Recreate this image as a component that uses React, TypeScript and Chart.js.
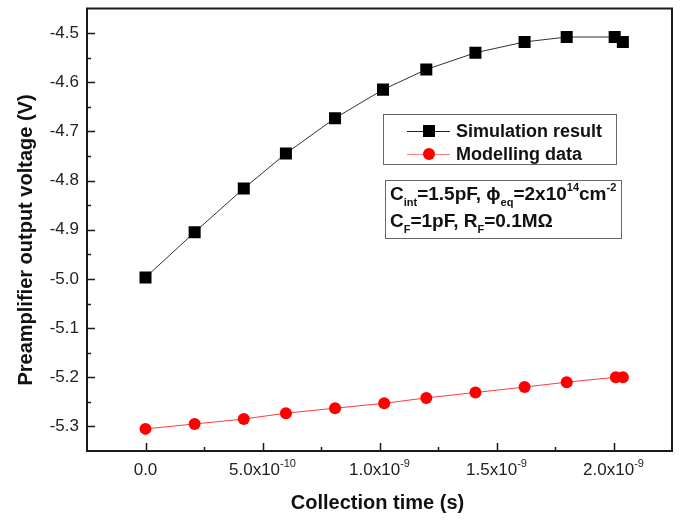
import { useEffect, useRef } from 'react';
import { Chart, registerables } from 'chart.js';

Chart.register(...registerables);

// ---- Data ----
const simulationTime = [0, 2.1e-10, 4.2e-10, 6.0e-10, 8.1e-10, 1.015e-9, 1.2e-9, 1.41e-9, 1.62e-9, 1.8e-9, 2.005e-9, 2.04e-9];
const simulationResult = [-4.997, -4.905, -4.816, -4.745, -4.673, -4.615, -4.574, -4.54, -4.518, -4.508, -4.508, -4.518];
const modellingTime = [0, 2.1e-10, 4.2e-10, 6.0e-10, 8.1e-10, 1.02e-9, 1.2e-9, 1.41e-9, 1.62e-9, 1.8e-9, 2.01e-9, 2.04e-9];
const modellingData = [-5.305, -5.295, -5.285, -5.273, -5.263, -5.253, -5.242, -5.231, -5.22, -5.21, -5.2, -5.2];

const xTickValues = [0, 5e-10, 1e-9, 1.5e-9, 2e-9];
const xTickMantissas = ['0.0', '5.0x10', '1.0x10', '1.5x10', '2.0x10'];
const xTickExponents = ['', '-10', '-9', '-9', '-9'];
const xMinorTicks = [2.5e-10, 7.5e-10, 1.25e-9, 1.75e-9];
const yTickValues = [-4.5, -4.6, -4.7, -4.8, -4.9, -5.0, -5.1, -5.2, -5.3];
const yMinorTicks = [-4.55, -4.65, -4.75, -4.85, -4.95, -5.05, -5.15, -5.25];

const xAxisTitle = 'Collection time (s)';
const yAxisTitle = 'Preamplifier output voltage (V)';
const seriesNames = ['Simulation result', 'Modelling data'];

const FONT = '"Liberation Sans", Arial, Helvetica, sans-serif';

type Seg = { t: string; sub?: boolean; sup?: boolean };
const noteLine1: Seg[] = [
  { t: 'C' }, { t: 'int', sub: true }, { t: '=1.5pF, ' }, { t: 'ϕ' }, { t: 'eq', sub: true },
  { t: '=2x10' }, { t: '14', sup: true }, { t: 'cm' }, { t: '-2', sup: true },
];
const noteLine2: Seg[] = [
  { t: 'C' }, { t: 'F', sub: true }, { t: '=1pF, R' }, { t: 'F', sub: true }, { t: '=0.1MΩ' },
];

function drawRich(ctx: CanvasRenderingContext2D, segs: Seg[], x: number, y: number, size: number, small: number) {
  let cx = x;
  ctx.textAlign = 'left';
  ctx.textBaseline = 'alphabetic';
  for (const s of segs) {
    if (s.sub || s.sup) {
      ctx.font = `bold ${small}px ${FONT}`;
      const dy = s.sub ? size * 0.3 : -size * 0.45;
      ctx.fillText(s.t, cx, y + dy);
    } else {
      ctx.font = `bold ${size}px ${FONT}`;
      ctx.fillText(s.t, cx, y);
    }
    cx += ctx.measureText(s.t).width;
  }
}

const overlayPlugin = {
  id: 'overlay',
  afterDatasetsDraw(chart: any) {
    const { ctx, chartArea, scales } = chart;
    const { left, right, top, bottom } = chartArea;
    const xs = scales.x;
    const ys = scales.y;
    ctx.save();

    // Frame
    ctx.strokeStyle = '#1a1a1a';
    ctx.lineWidth = 2;
    ctx.strokeRect(left, top, right - left, bottom - top);

    // Ticks (inward)
    ctx.lineWidth = 1.5;
    ctx.beginPath();
    for (const v of xTickValues) {
      const px = Math.round(xs.getPixelForValue(v)) + 0.5;
      ctx.moveTo(px, bottom);
      ctx.lineTo(px, bottom - 8);
    }
    for (const v of xMinorTicks) {
      const px = Math.round(xs.getPixelForValue(v)) + 0.5;
      ctx.moveTo(px, bottom);
      ctx.lineTo(px, bottom - 4);
    }
    for (const v of yTickValues) {
      const py = Math.round(ys.getPixelForValue(v)) + 0.5;
      ctx.moveTo(left, py);
      ctx.lineTo(left + 8, py);
    }
    for (const v of yMinorTicks) {
      const py = Math.round(ys.getPixelForValue(v)) + 0.5;
      ctx.moveTo(left, py);
      ctx.lineTo(left + 4, py);
    }
    ctx.stroke();

    // Y tick labels
    ctx.fillStyle = '#222';
    ctx.font = `17px ${FONT}`;
    ctx.textAlign = 'right';
    ctx.textBaseline = 'middle';
    for (const v of yTickValues) {
      ctx.fillText(v.toFixed(1), left - 8, ys.getPixelForValue(v));
    }

    // X tick labels with superscript exponent
    xTickValues.forEach((v, i) => {
      const px = xs.getPixelForValue(v);
      ctx.font = `17px ${FONT}`;
      const w1 = ctx.measureText(xTickMantissas[i]).width;
      ctx.font = `11px ${FONT}`;
      const w2 = xTickExponents[i] ? ctx.measureText(xTickExponents[i]).width : 0;
      const x0 = px - (w1 + w2) / 2;
      ctx.textAlign = 'left';
      ctx.textBaseline = 'alphabetic';
      ctx.font = `17px ${FONT}`;
      ctx.fillText(xTickMantissas[i], x0, bottom + 24);
      if (xTickExponents[i]) {
        ctx.font = `11px ${FONT}`;
        ctx.fillText(xTickExponents[i], x0 + w1, bottom + 16);
      }
    });

    // Axis titles
    ctx.fillStyle = '#111';
    ctx.font = `bold 20px ${FONT}`;
    ctx.textAlign = 'center';
    ctx.textBaseline = 'alphabetic';
    ctx.fillText(xAxisTitle, (left + right) / 2 - 2, bottom + 58);
    ctx.save();
    ctx.translate(32, 240);
    ctx.rotate(-Math.PI / 2);
    ctx.fillText(yAxisTitle, 0, 0);
    ctx.restore();

    // Legend box
    ctx.fillStyle = '#fff';
    ctx.strokeStyle = '#666';
    ctx.lineWidth = 1;
    ctx.fillRect(383.5, 114.5, 233, 50);
    ctx.strokeRect(383.5, 114.5, 233, 50);
    const rows = [
      { y: 131, line: '#222', fill: '#000', shape: 'rect' },
      { y: 154, line: '#ff8080', fill: '#ff0000', shape: 'circle' },
    ];
    rows.forEach((r, i) => {
      ctx.strokeStyle = r.line;
      ctx.lineWidth = 1;
      ctx.beginPath();
      ctx.moveTo(407, r.y + 0.5);
      ctx.lineTo(450, r.y + 0.5);
      ctx.stroke();
      ctx.fillStyle = r.fill;
      if (r.shape === 'rect') {
        ctx.fillRect(429 - 6, r.y - 6, 12, 12);
      } else {
        ctx.beginPath();
        ctx.arc(429, r.y, 6, 0, Math.PI * 2);
        ctx.fill();
      }
      ctx.fillStyle = '#111';
      ctx.font = `bold 18px ${FONT}`;
      ctx.textAlign = 'left';
      ctx.textBaseline = 'middle';
      ctx.fillText(seriesNames[i], 456, r.y + 1);
    });

    // Note box
    ctx.fillStyle = '#fff';
    ctx.strokeStyle = '#666';
    ctx.fillRect(385.5, 180.5, 236, 58);
    ctx.strokeRect(385.5, 180.5, 236, 58);
    ctx.fillStyle = '#111';
    drawRich(ctx, noteLine1, 390, 200, 19, 11);
    drawRich(ctx, noteLine2, 390, 227, 19, 11);

    ctx.restore();
  },
};

export default function App() {
  const canvasRef = useRef<HTMLCanvasElement | null>(null);

  useEffect(() => {
    document.body.style.margin = '0';
    const canvas = canvasRef.current;
    if (!canvas) return;
    const chart = new Chart(canvas, {
      type: 'line',
      data: {
        datasets: [
          {
            label: seriesNames[0],
            data: simulationTime.map((t, i) => ({ x: t, y: simulationResult[i] })),
            borderColor: '#333',
            borderWidth: 1,
            backgroundColor: '#000',
            pointBackgroundColor: '#000',
            pointBorderColor: '#000',
            pointStyle: 'rect',
            pointRadius: 8.5,
            pointBorderWidth: 0,
            tension: 0,
          },
          {
            label: seriesNames[1],
            data: modellingTime.map((t, i) => ({ x: t, y: modellingData[i] })),
            borderColor: '#ff3b3b',
            borderWidth: 1,
            backgroundColor: '#ff0000',
            pointBackgroundColor: '#ff0000',
            pointBorderColor: '#ff0000',
            pointStyle: 'circle',
            pointRadius: 6,
            pointBorderWidth: 0,
            tension: 0,
          },
        ],
      },
      options: {
        responsive: false,
        animation: false,
        events: [],
        layout: { padding: { left: 87, top: 4, right: 14, bottom: 69 } },
        plugins: { legend: { display: false }, tooltip: { enabled: false } },
        scales: {
          x: { type: 'linear', display: false, min: -2.5e-10, max: 2.25e-9 },
          y: { type: 'linear', display: false, min: -5.35, max: -4.45 },
        },
      },
      plugins: [overlayPlugin],
    });
    return () => chart.destroy();
  }, []);

  return (
    <div style={{ width: 686, height: 520, background: '#fff' }}>
      <canvas ref={canvasRef} width={686} height={520} style={{ width: 686, height: 520, display: 'block' }} />
    </div>
  );
}
